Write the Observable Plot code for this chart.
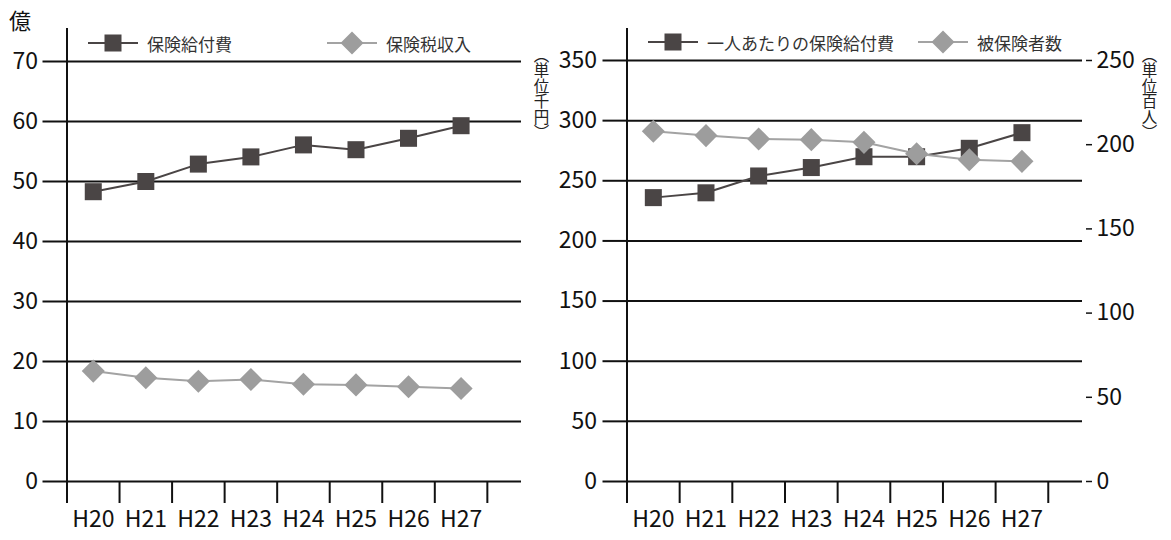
<!DOCTYPE html>
<html><head><meta charset="utf-8">
<script src="https://cdn.jsdelivr.net/npm/d3@7"></script>
<script src="https://cdn.jsdelivr.net/npm/@observablehq/plot@0.6"></script>
<style>
body{margin:0;background:#fff;font-family:"Noto Sans CJK JP","Noto Sans",sans-serif;}
#wrap{position:relative;width:1171px;height:540px;overflow:hidden;background:#fff;}
.abs{position:absolute;}
.plot svg{overflow:visible;}
.vt{position:absolute;writing-mode:vertical-rl;font-size:15.5px;line-height:1;color:#222;}
.leg{position:absolute;display:flex;align-items:center;font-size:17px;color:#333;white-space:nowrap;}
</style></head><body><div id="wrap"></div>
<script>
// ---- data ----
const years = [20, 21, 22, 23, 24, 25, 26, 27];
const yearLabels = ["H20", "H21", "H22", "H23", "H24", "H25", "H26", "H27"];
const benefitTotal = [48.3, 50.0, 52.9, 54.1, 56.1, 55.3, 57.2, 59.3];   // 保険給付費 (億)
const taxRevenue   = [18.4, 17.3, 16.7, 17.0, 16.2, 16.1, 15.8, 15.5];   // 保険税収入 (億)
const benefitPerCapita = [236, 240, 254, 261, 270, 270, 277, 290];      // 一人あたりの保険給付費 (千円)
const insuredCount = [208, 205.4, 203.4, 203.0, 201.4, 194.6, 191.1, 190.1]; // 被保険者数 (百人)
const leftTicks = [0, 10, 20, 30, 40, 50, 60, 70];
const rightLeftTicks = [0, 50, 100, 150, 200, 250, 300, 350];
const rightRightTicks = [0, 50, 100, 150, 200, 250];
const legendLeft = ["保険給付費", "保険税収入"];
const legendRight = ["一人あたりの保険給付費", "被保険者数"];

const DARK = "#4a4545", GRAY = "#9d9d9d", GRAYLINE = "#a3a3a3";
const bounds = years.map(y => y - 0.5).concat([years[years.length - 1] + 0.5]);
const xDomain = [bounds[0], bounds[bounds.length - 1] + 0.65];
const FONT = '"Noto Sans CJK JP","Noto Sans",sans-serif';

function xAxes() {
  return [
    Plot.axisX(bounds, {tickSize: 22, tickFormat: () => "", strokeWidth: 2, stroke: "#111"}),
    Plot.axisX(years, {tickSize: 0, tickPadding: 29, tickFormat: d => yearLabels[years.indexOf(d)], fontSize: 23})
  ];
}

const wrap = document.getElementById("wrap");

// ---- left chart ----
const left = Plot.plot({
  width: 540, height: 540,
  marginLeft: 66.5, marginRight: 19, marginTop: 28, marginBottom: 59,
  style: {fontFamily: FONT, fontSize: "23px", color: "#111", background: "transparent"},
  x: {domain: xDomain, label: null},
  y: {domain: [0, 75.5], label: null},
  marks: [
    Plot.ruleY(leftTicks, {stroke: "#111", strokeWidth: 2}),
    Plot.ruleX([bounds[0]], {stroke: "#111", strokeWidth: 2}),
    Plot.axisY(leftTicks, {tickSize: 24, tickPadding: 5, strokeWidth: 2, stroke: "#111", fontSize: 23}),
    ...xAxes(),
    Plot.line(years, {x: d => d, y: (d, i) => benefitTotal[i], stroke: DARK, strokeWidth: 2}),
    Plot.dot(years, {x: d => d, y: (d, i) => benefitTotal[i], symbol: "square", r: 9.6, fill: DARK, stroke: null}),
    Plot.line(years, {x: d => d, y: (d, i) => taxRevenue[i], stroke: GRAYLINE, strokeWidth: 2}),
    Plot.dot(years, {x: d => d, y: (d, i) => taxRevenue[i], symbol: "diamond2", r: 10.4, fill: GRAY, stroke: null})
  ]
});
const lw = document.createElement("div");
lw.className = "abs plot"; lw.style.left = "0px"; lw.style.top = "0px";
lw.appendChild(left); wrap.appendChild(lw);

// ---- right chart (dual axis) ----
const ratio = 350 / 250;
const right = Plot.plot({
  width: 631, height: 540,
  marginLeft: 86.5, marginRight: 89, marginTop: 28, marginBottom: 59,
  style: {fontFamily: FONT, fontSize: "23px", color: "#111", background: "transparent"},
  x: {domain: xDomain, label: null},
  y: {domain: [0, 376.6], label: null},
  marks: [
    Plot.ruleY(rightLeftTicks, {stroke: "#111", strokeWidth: 2}),
    Plot.ruleX([bounds[0]], {stroke: "#111", strokeWidth: 2}),
    Plot.axisY(rightLeftTicks, {tickSize: 24, tickPadding: 6, strokeWidth: 2, stroke: "#111", fontSize: 23}),
    Plot.axisY(rightRightTicks.map(d => d * ratio), {anchor: "right", tickSize: 6, tickPadding: 5, dx: 3, strokeWidth: 1.5, stroke: "#111",
      tickFormat: d => String(Math.round(d / ratio)), fontSize: 23}),
    ...xAxes(),
    Plot.line(years, {x: d => d, y: (d, i) => benefitPerCapita[i], stroke: DARK, strokeWidth: 2}),
    Plot.dot(years, {x: d => d, y: (d, i) => benefitPerCapita[i], symbol: "square", r: 9.6, fill: DARK, stroke: null}),
    Plot.line(years, {x: d => d, y: (d, i) => insuredCount[i] * ratio, stroke: GRAYLINE, strokeWidth: 2}),
    Plot.dot(years, {x: d => d, y: (d, i) => insuredCount[i] * ratio, symbol: "diamond2", r: 10.4, fill: GRAY, stroke: null})
  ]
});
const rw = document.createElement("div");
rw.className = "abs plot"; rw.style.left = "540px"; rw.style.top = "0px";
rw.appendChild(right); wrap.appendChild(rw);

// ---- texts ----
function addText(cls, txt, css) {
  const d = document.createElement("div");
  d.className = cls; d.textContent = txt;
  Object.assign(d.style, css);
  wrap.appendChild(d);
  return d;
}
addText("abs", "億", {left: "9px", top: "6px", fontSize: "22px", color: "#111", lineHeight: "1.2"});
addText("vt", "（単位千円）", {left: "533px", top: "47px"});
addText("vt", "（単位百人）", {left: "1141px", top: "47px"});

function legend(x, y, kind, label, extra) {
  const d = document.createElement("div");
  d.className = "leg";
  d.style.left = x + "px"; d.style.top = (y - 14) + "px"; d.style.height = "28px";
  const ns = "http://www.w3.org/2000/svg";
  const svg = document.createElementNS(ns, "svg");
  svg.setAttribute("width", 50); svg.setAttribute("height", 28);
  const ln = document.createElementNS(ns, "line");
  ln.setAttribute("x1", 0); ln.setAttribute("x2", 50); ln.setAttribute("y1", 14); ln.setAttribute("y2", 14);
  ln.setAttribute("stroke", kind === "square" ? DARK : GRAYLINE); ln.setAttribute("stroke-width", 2);
  svg.appendChild(ln);
  if (kind === "square") {
    const r = document.createElementNS(ns, "rect");
    r.setAttribute("x", 16.5); r.setAttribute("y", 5.5); r.setAttribute("width", 17); r.setAttribute("height", 17);
    r.setAttribute("fill", DARK); svg.appendChild(r);
  } else {
    const p = document.createElementNS(ns, "path");
    p.setAttribute("d", "M25,2.5L36.5,14L25,25.5L13.5,14Z");
    p.setAttribute("fill", GRAY); svg.appendChild(p);
  }
  d.appendChild(svg);
  const s = document.createElement("span");
  s.textContent = label; s.style.marginLeft = "9px";
  if (extra) Object.assign(s.style, extra);
  d.appendChild(s);
  wrap.appendChild(d);
}
legend(88, 43, "square", legendLeft[0]);
legend(327, 43, "diamond", legendLeft[1]);
legend(648, 42, "square", legendRight[0]);
legend(918, 42, "diamond", legendRight[1]);
</script></body></html>
